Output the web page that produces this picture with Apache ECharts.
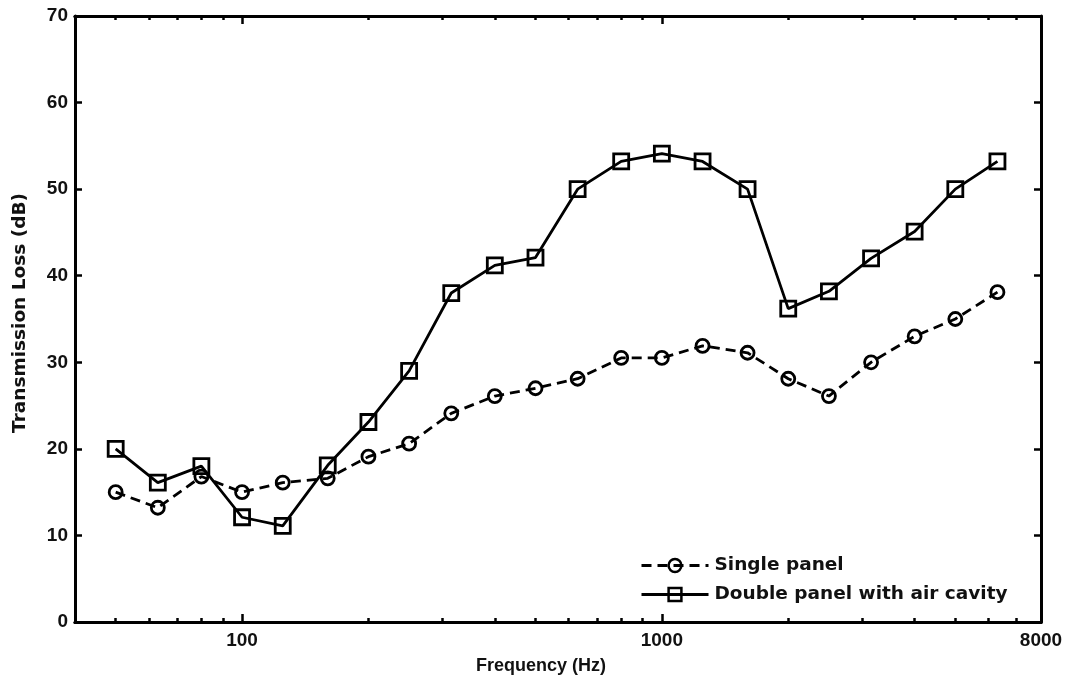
<!DOCTYPE html>
<html>
<head>
<meta charset="utf-8">
<script src="https://cdn.jsdelivr.net/npm/echarts@6/dist/echarts.min.js"></script>
<style>html,body{margin:0;padding:0;background:#fff}#c{width:1071px;height:681px}</style>
</head>
<body>
<div id="c"></div>
<script>
const freqs = [50, 63, 80, 100, 125, 160, 200, 250, 315, 400, 500, 630, 800, 1000, 1250, 1600, 2000, 2500, 3150, 4000, 5000, 6300];
const singlePanel = [15, 13.2, 16.8, 15, 16.1, 16.6, 19.1, 20.6, 24.1, 26.1, 27, 28.1, 30.5, 30.5, 31.9, 31.1, 28.1, 26.1, 30, 33, 35, 38.1];
const doublePanel = [20, 16.1, 18, 12.1, 11.1, 18.1, 23.1, 29, 38, 41.2, 42.1, 50, 53.2, 54.1, 53.2, 50, 36.2, 38.2, 42, 45.1, 50, 53.2];
const seriesNames = ['Single panel', 'Double panel with air cavity'];
const xMajorTicks = [100, 1000];
const xMinorTicks = [50, 60, 70, 80, 90, 200, 300, 400, 500, 600, 700, 800, 900, 2000, 3000, 4000, 5000, 6000, 7000];
const xLabels = [100, 1000, 8000];
const xMin = 40, xMax = 8000;
const yTicks = [0, 10, 20, 30, 40, 50, 60, 70];

const font = 'Liberation Sans, Arial, sans-serif';
const wideFont = 'DejaVu Sans, Liberation Sans, sans-serif';
const chart = echarts.init(document.getElementById('c'), null, {renderer: 'canvas'});
const axisLine = {show: true, onZero: false, lineStyle: {color: '#000', width: 3}};
const lbl = {fontFamily: font, fontWeight: 'bold', fontSize: 19, color: '#111'};

function xAx(pos, ticks, len, labels) {
  return {
    type: 'log', logBase: 10, min: xMin, max: xMax, position: pos, gridIndex: 0,
    axisLine: axisLine,
    axisTick: {show: true, inside: true, length: len, customValues: ticks, lineStyle: {color: '#000', width: 2.5}},
    axisLabel: labels ? Object.assign({show: true, margin: 9, customValues: labels, formatter: v => String(v)}, lbl) : {show: false},
    splitLine: {show: false}, minorTick: {show: false}
  };
}

const option = {
  backgroundColor: '#fff',
  animation: false,
  grid: {left: 75, top: 16, right: 30, bottom: 59, containLabel: false},
  legend: {
    orient: 'vertical', left: 640, top: 556, itemGap: 10, itemWidth: 67, itemHeight: 16,
    padding: 0,
    lineStyle: {width: 3},
    itemStyle: {borderWidth: 2.5},
    textStyle: {fontFamily: wideFont, fontWeight: 'bold', fontSize: 18.5, color: '#111', padding: [0, 0, 0, 1]},
    data: seriesNames
  },
  xAxis: [
    xAx('bottom', xMinorTicks, 4, null),
    Object.assign(xAx('bottom', xMajorTicks, 8, xLabels), {
      name: 'Frequency (Hz)', nameLocation: 'middle', nameGap: 35,
      nameTextStyle: {fontFamily: font, fontWeight: 'bold', fontSize: 18, color: '#111', padding: [0, 34, 0, 0]}
    }),
    xAx('top', xMinorTicks, 4, null),
    xAx('top', xMajorTicks, 8, null)
  ],
  yAxis: [
    {
      type: 'value', min: 0, max: 70, interval: 10, position: 'left',
      axisLine: axisLine,
      axisTick: {show: true, inside: true, length: 7, customValues: yTicks, lineStyle: {color: '#000', width: 2.5}},
      axisLabel: Object.assign({margin: 7, customValues: yTicks}, lbl),
      splitLine: {show: false},
      name: 'Transmission Loss (dB)', nameLocation: 'middle', nameGap: 45,
      nameTextStyle: {fontFamily: wideFont, fontWeight: 'bold', fontSize: 18.5, color: '#111', padding: [0, 0, 0, 12]}
    },
    {
      type: 'value', min: 0, max: 70, interval: 10, position: 'right',
      axisLine: axisLine,
      axisTick: {show: true, inside: true, length: 7, lineStyle: {color: '#000', width: 2.5}},
      axisLabel: {show: false}, splitLine: {show: false}
    }
  ],
  series: [
    {
      name: seriesNames[0], type: 'line', xAxisIndex: 0, yAxisIndex: 0,
      data: freqs.map((f, i) => [f, singlePanel[i]]),
      symbol: 'circle', symbolSize: 13,
      lineStyle: {color: '#000', width: 2.8, type: [10, 6]},
      itemStyle: {color: 'rgba(255,255,255,0)', borderColor: '#000', borderWidth: 2.8},
      z: 3
    },
    {
      name: seriesNames[1], type: 'line', xAxisIndex: 0, yAxisIndex: 0,
      data: freqs.map((f, i) => [f, doublePanel[i]]),
      symbol: 'rect', symbolSize: 15,
      lineStyle: {color: '#000', width: 2.8, type: 'solid'},
      itemStyle: {color: 'rgba(255,255,255,0)', borderColor: '#000', borderWidth: 2.8},
      z: 4
    }
  ]
};
chart.setOption(option);
</script>
</body>
</html>
